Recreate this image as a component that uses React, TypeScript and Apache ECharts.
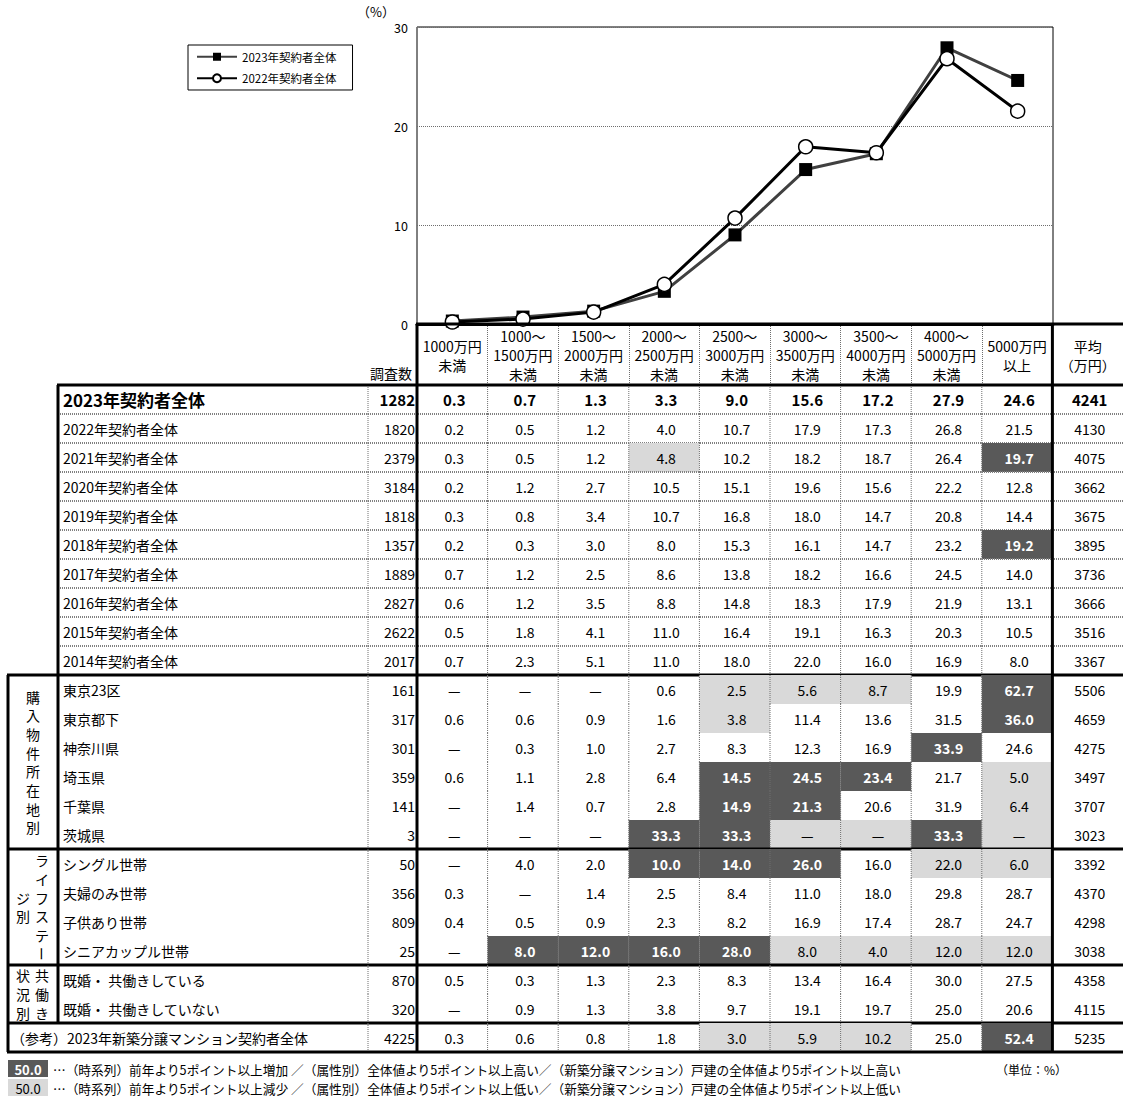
import React, { useEffect, useRef } from "react";
import * as echarts from "echarts";

const JP = "'Noto Sans CJK JP', 'Noto Sans', sans-serif";
const NUM = "'Liberation Sans Narrow', 'Noto Sans CJK JP', sans-serif";

// Price bands (columns of the chart and of the table)
const priceBands = [
  "1000万円\n未満",
  "1000～\n1500万円\n未満",
  "1500～\n2000万円\n未満",
  "2000～\n2500万円\n未満",
  "2500～\n3000万円\n未満",
  "3000～\n3500万円\n未満",
  "3500～\n4000万円\n未満",
  "4000～\n5000万円\n未満",
  "5000万円\n以上",
];
const averageHeader = "平均\n（万円）";
const seriesNames = ["2023年契約者全体", "2022年契約者全体"];
const yAxisMin = 0;
const yAxisMax = 30;
const yAxisStep = 10;

// Table rows
const rowLabels = [
  "2023年契約者全体",
  "2022年契約者全体",
  "2021年契約者全体",
  "2020年契約者全体",
  "2019年契約者全体",
  "2018年契約者全体",
  "2017年契約者全体",
  "2016年契約者全体",
  "2015年契約者全体",
  "2014年契約者全体",
  "東京23区",
  "東京都下",
  "神奈川県",
  "埼玉県",
  "千葉県",
  "茨城県",
  "シングル世帯",
  "夫婦のみ世帯",
  "子供あり世帯",
  "シニアカップル世帯",
  "既婚・ 共働きしている",
  "既婚・ 共働きしていない",
  "（参考）2023年新築分譲マンション契約者全体",
];

const sampleCounts = [
  1282, 1820, 2379, 3184, 1818, 1357, 1889, 2827, 2622, 2017,
  161, 317, 301, 359, 141, 3,
  50, 356, 809, 25,
  870, 320,
  4225,
];

// Share (%) per price band; null = no respondents ("—")
const bandShares: (number | null)[][] = [
  [0.3, 0.7, 1.3, 3.3, 9.0, 15.6, 17.2, 27.9, 24.6],
  [0.2, 0.5, 1.2, 4.0, 10.7, 17.9, 17.3, 26.8, 21.5],
  [0.3, 0.5, 1.2, 4.8, 10.2, 18.2, 18.7, 26.4, 19.7],
  [0.2, 1.2, 2.7, 10.5, 15.1, 19.6, 15.6, 22.2, 12.8],
  [0.3, 0.8, 3.4, 10.7, 16.8, 18.0, 14.7, 20.8, 14.4],
  [0.2, 0.3, 3.0, 8.0, 15.3, 16.1, 14.7, 23.2, 19.2],
  [0.7, 1.2, 2.5, 8.6, 13.8, 18.2, 16.6, 24.5, 14.0],
  [0.6, 1.2, 3.5, 8.8, 14.8, 18.3, 17.9, 21.9, 13.1],
  [0.5, 1.8, 4.1, 11.0, 16.4, 19.1, 16.3, 20.3, 10.5],
  [0.7, 2.3, 5.1, 11.0, 18.0, 22.0, 16.0, 16.9, 8.0],
  [null, null, null, 0.6, 2.5, 5.6, 8.7, 19.9, 62.7],
  [0.6, 0.6, 0.9, 1.6, 3.8, 11.4, 13.6, 31.5, 36.0],
  [null, 0.3, 1.0, 2.7, 8.3, 12.3, 16.9, 33.9, 24.6],
  [0.6, 1.1, 2.8, 6.4, 14.5, 24.5, 23.4, 21.7, 5.0],
  [null, 1.4, 0.7, 2.8, 14.9, 21.3, 20.6, 31.9, 6.4],
  [null, null, null, 33.3, 33.3, null, null, 33.3, null],
  [null, 4.0, 2.0, 10.0, 14.0, 26.0, 16.0, 22.0, 6.0],
  [0.3, null, 1.4, 2.5, 8.4, 11.0, 18.0, 29.8, 28.7],
  [0.4, 0.5, 0.9, 2.3, 8.2, 16.9, 17.4, 28.7, 24.7],
  [null, 8.0, 12.0, 16.0, 28.0, 8.0, 4.0, 12.0, 12.0],
  [0.5, 0.3, 1.3, 2.3, 8.3, 13.4, 16.4, 30.0, 27.5],
  [null, 0.9, 1.3, 3.8, 9.7, 19.1, 19.7, 25.0, 20.6],
  [0.3, 0.6, 0.8, 1.8, 3.0, 5.9, 10.2, 25.0, 52.4],
];

const averagePrice = [
  4241, 4130, 4075, 3662, 3675, 3895, 3736, 3666, 3516, 3367,
  5506, 4659, 4275, 3497, 3707, 3023,
  3392, 4370, 4298, 3038,
  4358, 4115,
  5235,
];

// D = 5pt or more above, L = 5pt or more below, . = no mark
const highlight = [
  ".........",
  ".........",
  "...L....D",
  ".........",
  ".........",
  "........D",
  ".........",
  ".........",
  ".........",
  ".........",
  "....LLL.D",
  "....L...D",
  ".......D.",
  "....DDD.L",
  "....DD..L",
  "...DDLLDL",
  "...DDD.LL",
  ".........",
  ".........",
  ".DDDDLLLL",
  ".........",
  ".........",
  "....LLL.D",
];

// Row group captions, written vertically (columns run right to left)
const rowGroups = [
  { first: 10, span: 6, columns: ["購入物件所在地別"] },
  { first: 16, span: 4, columns: ["ライフステー", "ジ別"] },
  { first: 20, span: 2, columns: ["共働き", "状況別"] },
];

const footnoteHigh =
  "…（時系列）前年より5ポイント以上増加 ／（属性別）全体値より5ポイント以上高い／（新築分譲マンション）戸建の全体値より5ポイント以上高い";
const footnoteLow =
  "…（時系列）前年より5ポイント以上減少 ／（属性別）全体値より5ポイント以上低い／（新築分譲マンション）戸建の全体値より5ポイント以上低い";

// Layout
const PAGE_W = 1123;
const PAGE_H = 1097;
const PLOT = { left: 417, top: 27, width: 636, height: 297 };
const TABLE = { left: 417, top: 385, width: 706, height: 667 };
const HEADER_H = 61;
const OUTER_LEFT = 8;
const LABEL_LEFT = 58;
const COUNT_LEFT = 368;
const DARK = "#595959";
const LIGHT = "#d9d9d9";
const THICK = 3;
const thickBelow = new Set([9, 15, 19, 21, 22]);

const dotted = { stroke: "#6e6e6e", lineWidth: 1, lineDash: [1, 1] };
const thick = { stroke: "#000", lineWidth: THICK };

function line(x1: number, y1: number, x2: number, y2: number, style: any) {
  return { type: "line", shape: { x1, y1, x2, y2 }, style, silent: true };
}

function renderRow(_params: any, api: any) {
  const r = api.value(1) as number;
  const size = api.size([1, 1]) as number[];
  const cw = size[0];
  const rh = size[1];
  const mid = api.coord([0, r]);
  const y0 = mid[1] - rh / 2;
  const y1 = y0 + rh;
  const yc = mid[1];
  const colL = (c: number) => api.coord([c, r])[0] - cw / 2;
  const xEnd = colL(9) + cw;
  const kids: any[] = [];
  const shade = highlight[r];
  const isTotal = r === 0;

  // cell shading
  for (let c = 0; c < 9; c++) {
    const s = shade[c];
    if (s === "D" || s === "L") {
      kids.push({
        type: "rect",
        shape: { x: colL(c), y: y0, width: cw, height: rh },
        style: { fill: s === "D" ? DARK : LIGHT },
        silent: true,
      });
    }
  }

  // dotted column separators
  for (let c = 1; c < 9; c++) kids.push(line(colL(c), y0, colL(c), y1, dotted));
  kids.push(line(COUNT_LEFT, y0, COUNT_LEFT, y1, dotted));

  // row label and sample count
  kids.push({
    type: "text",
    style: {
      x: r === 22 ? OUTER_LEFT + 3 : LABEL_LEFT + 5,
      y: yc,
      text: rowLabels[r],
      align: "left",
      verticalAlign: "middle",
      fill: "#000",
      fontFamily: JP,
      fontSize: isTotal ? 17 : 14,
      fontWeight: isTotal ? "bold" : "normal",
    },
    silent: true,
  });
  kids.push({
    type: "text",
    style: {
      x: colL(0) - 2,
      y: yc,
      text: String(sampleCounts[r]),
      align: "right",
      verticalAlign: "middle",
      fill: "#000",
      fontFamily: isTotal ? JP : NUM,
      fontSize: isTotal ? 15 : 14,
      fontWeight: isTotal ? "bold" : "normal",
    },
    silent: true,
  });

  // values
  const values = [...bandShares[r], averagePrice[r]];
  for (let c = 0; c < 10; c++) {
    const v = values[c];
    const dark = shade[c] === "D";
    const text = v == null ? "—" : c === 9 ? String(v) : v.toFixed(1);
    kids.push({
      type: "text",
      style: {
        x: colL(c) + cw / 2 + 2,
        y: yc,
        text,
        align: "center",
        verticalAlign: "middle",
        fill: dark ? "#fff" : "#000",
        fontFamily: v == null ? JP : isTotal || dark ? JP : NUM,
        fontSize: isTotal ? 15 : 14,
        fontWeight: isTotal || dark ? "bold" : "normal",
      },
      silent: true,
    });
  }

  // horizontal borders
  if (r <= 8) kids.push(line(LABEL_LEFT, y1, xEnd, y1, { stroke: "#808080", lineWidth: 2, lineDash: [1, 1] }));
  if (thickBelow.has(r)) kids.push(line(OUTER_LEFT - 1, y1, xEnd, y1, thick));
  if (r === 0) {
    kids.push(line(LABEL_LEFT - 1, y0, xEnd, y0, thick));
    // header frame
    const hTop = y0 - HEADER_H;
    kids.push(line(colL(0) - 1, hTop, xEnd, hTop, thick));
    kids.push(line(colL(0), hTop, colL(0), y0, thick));
    kids.push(line(colL(9), hTop, colL(9), y0, thick));
  }

  // vertical borders
  if (r >= 10) kids.push(line(OUTER_LEFT, y0, OUTER_LEFT, y1, thick));
  if (r <= 21) kids.push(line(LABEL_LEFT, y0, LABEL_LEFT, y1, thick));
  kids.push(line(colL(0), y0, colL(0), y1, thick));
  kids.push(line(colL(9), y0, colL(9), y1, thick));

  // vertical group captions
  for (const g of rowGroups) {
    if (g.first !== r) continue;
    const cy = y0 + (g.span * rh) / 2;
    const xs = g.columns.length === 1 ? [33] : [42, 23];
    const step = 18.7;
    g.columns.forEach((col, k) => {
      const chars = Array.from(col);
      chars.forEach((ch, i) => {
        const cyChar = cy + (i - (chars.length - 1) / 2) * step;
        kids.push({
          type: "text",
          x: xs[k],
          y: cyChar,
          rotation: ch === "ー" ? -Math.PI / 2 : 0,
          style: {
            x: 0,
            y: 0,
            text: ch,
            align: "center",
            verticalAlign: "middle",
            fill: "#000",
            fontFamily: JP,
            fontSize: 14,
          },
          silent: true,
        });
      });
    });
  }

  return { type: "group", children: kids };
}

export default function App() {
  const ref = useRef<HTMLDivElement>(null);

  useEffect(() => {
    if (!ref.current) return;
    const chart = echarts.init(ref.current, undefined, { renderer: "svg" });

    const option: any = {
      animation: false,
      backgroundColor: "#fff",
      textStyle: { fontFamily: JP, color: "#000" },
      legend: {
        left: 188,
        top: 45,
        orient: "vertical",
        data: seriesNames,
        borderColor: "#000",
        borderWidth: 1,
        padding: [6, 16, 6, 8],
        itemWidth: 40,
        itemHeight: 10,
        itemGap: 10,
        textStyle: { fontSize: 11.5, color: "#000", fontFamily: JP },
      },
      grid: [
        { ...PLOT, show: true, borderColor: "#000", borderWidth: 1, backgroundColor: "transparent" },
        { ...TABLE, show: false },
      ],
      xAxis: [
        {
          type: "category",
          gridIndex: 0,
          data: priceBands,
          boundaryGap: true,
          axisLine: { show: true, lineStyle: { color: "#000", width: THICK } },
          axisTick: { show: false },
          axisLabel: { show: false },
          splitLine: { show: false },
        },
        {
          type: "category",
          gridIndex: 1,
          position: "top",
          data: [...priceBands, averageHeader],
          boundaryGap: true,
          axisLine: { show: false },
          axisTick: {
            show: true,
            interval: 0,
            length: HEADER_H,
            lineStyle: { color: "#6e6e6e", width: 1, type: [1, 1] },
          },
          axisLabel: {
            interval: 0,
            margin: 30,
            verticalAlign: "middle",
            fontSize: 14,
            lineHeight: 19,
            color: "#000",
            fontFamily: JP,
          },
          splitLine: { show: false },
        },
      ],
      yAxis: [
        {
          type: "value",
          gridIndex: 0,
          min: yAxisMin,
          max: yAxisMax,
          interval: yAxisStep,
          name: "（%）",
          nameLocation: "end",
          nameGap: 9,
          nameTextStyle: { fontSize: 13, color: "#000", align: "right", padding: [0, 22, 0, 0], fontFamily: JP },
          axisLine: { show: false },
          axisTick: { show: false },
          axisLabel: { fontSize: 12.5, color: "#000", margin: 9, fontFamily: NUM },
          splitLine: { show: true, lineStyle: { color: "#6e6e6e", width: 1, type: [1, 1] } },
        },
        {
          type: "category",
          gridIndex: 1,
          inverse: true,
          data: rowLabels,
          show: false,
        },
      ],
      series: [
        {
          type: "line",
          name: seriesNames[0],
          xAxisIndex: 0,
          yAxisIndex: 0,
          data: bandShares[0],
          symbol: "rect",
          symbolSize: 13,
          lineStyle: { color: "#404040", width: 3 },
          itemStyle: { color: "#000" },
          z: 3,
        },
        {
          type: "line",
          name: seriesNames[1],
          xAxisIndex: 0,
          yAxisIndex: 0,
          data: bandShares[1],
          symbol: "circle",
          symbolSize: 14,
          lineStyle: { color: "#000", width: 3 },
          itemStyle: { color: "#fff", borderColor: "#000", borderWidth: 1.5 },
          z: 4,
        },
        {
          type: "custom",
          xAxisIndex: 1,
          yAxisIndex: 1,
          silent: true,
          clip: false,
          data: rowLabels.map((_, i) => [0, i]),
          renderItem: renderRow,
          z: 5,
        },
      ],
      graphic: [
        {
          type: "text",
          left: 370,
          top: 366,
          style: { text: "調査数", fill: "#000", fontSize: 14, fontFamily: JP },
        },
        {
          type: "rect",
          shape: { x: 8, y: 1060, width: 40, height: 17 },
          style: { fill: DARK },
        },
        {
          type: "text",
          x: 28,
          y: 1069,
          style: { text: "50.0", fill: "#fff", fontSize: 13, fontWeight: "bold", fontFamily: JP, align: "center", verticalAlign: "middle" },
        },
        {
          type: "text",
          x: 53,
          y: 1069,
          style: { text: footnoteHigh, fill: "#000", fontSize: 12.7, fontFamily: JP, verticalAlign: "middle" },
        },
        {
          type: "text",
          x: 996,
          y: 1069,
          style: { text: "（単位：%）", fill: "#000", fontSize: 12, fontFamily: JP, verticalAlign: "middle" },
        },
        {
          type: "rect",
          shape: { x: 8, y: 1079, width: 40, height: 17 },
          style: { fill: LIGHT },
        },
        {
          type: "text",
          x: 28,
          y: 1088,
          style: { text: "50.0", fill: "#000", fontSize: 13, fontFamily: NUM, align: "center", verticalAlign: "middle" },
        },
        {
          type: "text",
          x: 53,
          y: 1088,
          style: { text: footnoteLow, fill: "#000", fontSize: 12.7, fontFamily: JP, verticalAlign: "middle" },
        },
      ],
    };

    chart.setOption(option);
    return () => chart.dispose();
  }, []);

  return (
    <div
      ref={ref}
      style={{ position: "absolute", left: 0, top: 0, width: PAGE_W, height: PAGE_H, background: "#fff" }}
    />
  );
}
